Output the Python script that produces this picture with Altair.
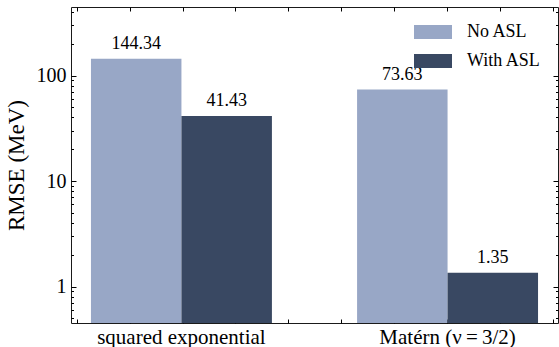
import altair as alt
import pandas as pd

# Kernel groups, series and RMSE values (MeV)
kernels = ["squared exponential", "Matérn (\u03bd\u2009=\u20093/2)"]
series = ["No ASL", "With ASL"]
no_asl = [144.34, 73.63]
with_asl = [41.43, 1.35]
colors = ["#98a7c6", "#394862"]

rows = []
for k, a, b in zip(kernels, no_asl, with_asl):
    rows.append({"kernel": k, "series": series[0], "rmse": a})
    rows.append({"kernel": k, "series": series[1], "rmse": b})
df = pd.DataFrame(rows)

W, H = 487, 316
FONT = "Liberation Serif"
Y_MIN, Y_MAX = 0.451, 446

y_scale = alt.Scale(type="log", domain=[Y_MIN, Y_MAX], nice=False)
x_band = alt.Scale(domain=kernels, paddingInner=0.32, paddingOuter=0.075)
off_scale = alt.Scale(domain=series)
x_ticks_scale = alt.Scale(domain=[-0.1078, 9.098], nice=False, zero=False)

# log tick positions for the frame: 0.5..0.9, 1..9, 10..90, 100..400
y_tick_values = (
    [0.5, 0.6, 0.7, 0.8, 0.9]
    + [float(v) for v in range(1, 10)]
    + [float(v * 10) for v in range(1, 10)]
    + [100.0, 200.0, 300.0, 400.0]
)
major_test = "datum.value == 1 || datum.value == 10 || datum.value == 100"
y_tick_size = alt.condition(major_test, alt.value(5), alt.value(2.5))

bars = alt.Chart(df).mark_bar().encode(
    x=alt.X(
        "kernel:N",
        scale=x_band,
        axis=alt.Axis(
            orient="bottom", title=None, labelAngle=0, ticks=False, domain=False,
            grid=False, labelFont=FONT, labelFontSize=21, labelColor="black",
            labelPadding=3,
        ),
    ),
    xOffset=alt.XOffset("series:N", scale=off_scale),
    y=alt.Y(
        "rmse:Q",
        scale=y_scale,
        axis=alt.Axis(
            orient="left", title="RMSE (MeV)", values=[1, 10, 100], format="d",
            ticks=False, domain=False, grid=False, labelFont=FONT,
            labelFontSize=20, labelColor="black", labelPadding=5,
            titleFont=FONT, titleFontSize=23, titleFontWeight="normal",
            titleColor="black", titlePadding=8,
        ),
    ),
    y2=alt.Y2Datum(Y_MIN),
    color=alt.Color(
        "series:N",
        scale=alt.Scale(domain=series, range=colors),
        legend=alt.Legend(
            title=None, orient="none", legendX=343, legendY=6,
            symbolType="M-1,-0.37H1V0.37H-1Z", symbolSize=1444,
            symbolStrokeWidth=0, symbolOpacity=1, labelFont=FONT,
            labelFontSize=18, labelColor="black", labelOffset=15,
            rowPadding=1, padding=0,
        ),
    ),
)

labels = alt.Chart(df).mark_text(
    baseline="alphabetic", dy=-10, font=FONT, fontSize=18, color="black"
).encode(
    x=alt.X("kernel:N", scale=x_band, axis=None),
    xOffset=alt.XOffset("series:N", scale=off_scale),
    y=alt.Y("rmse:Q", scale=y_scale, axis=None),
    text=alt.Text("rmse:Q", format=".2f"),
)


def frame_ticks(x_orient, y_orient):
    """Invisible layer whose axes draw inward-pointing ticks on the frame."""
    return (
        alt.Chart(df)
        .transform_calculate(pos="0")
        .mark_point(opacity=0)
        .encode(
            x=alt.X(
                "pos:Q", scale=x_ticks_scale,
                axis=alt.Axis(
                    orient=x_orient, offset=-H, values=list(range(10)),
                    labels=False, domain=False, grid=False, title=None,
                    tickSize=4, tickColor="black", tickWidth=1,
                ),
            ),
            y=alt.Y(
                "rmse:Q", scale=y_scale,
                axis=alt.Axis(
                    orient=y_orient, offset=-W, values=y_tick_values,
                    labels=False, domain=False, grid=False, title=None,
                    tickSize=y_tick_size, tickColor="black", tickWidth=1,
                ),
            ),
        )
    )


# left + bottom edges, then right + top edges
ticks_lb = frame_ticks("top", "right")
ticks_rt = frame_ticks("bottom", "left")

chart = (
    alt.layer(bars, labels, ticks_lb, ticks_rt)
    .resolve_scale(x="independent")
    .resolve_axis(x="independent", y="independent")
    .properties(
        width=W,
        height=H,
        padding={"left": 71, "top": 7, "right": 1, "bottom": 24},
        autosize=alt.AutoSizeParams(type="none"),
        background="white",
    )
    .configure_view(stroke="#1a1a1a", strokeWidth=1)
)

chart.save("out.html", embed_options={"renderer": "svg", "actions": False})
